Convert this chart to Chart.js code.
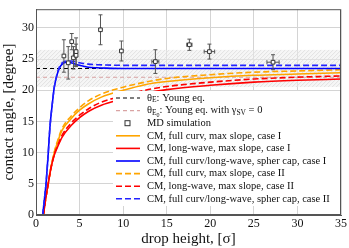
<!DOCTYPE html>
<html>
<head>
<meta charset="utf-8">
<script src="https://cdn.jsdelivr.net/npm/chart.js@4.4.1/dist/chart.umd.min.js"></script>
<style>
  html, body { margin: 0; padding: 0; background: #fff; }
</style>
</head>
<body>
<canvas id="chart" width="349" height="248"></canvas>
<script>
// axis ticks
const xTicks = [0, 5, 10, 15, 20, 25, 30, 35];
const yTicks = [0, 5, 10, 15, 20, 25, 30];

// Young equation reference lines
const youngX = [0, 35];
const thetaE = 23.5;
const thetaE0 = 22.1;
const thetaBand = [20.5, 26.5]; // shaded uncertainty band

// MD simulation points
const mdX    = [3.2, 3.7, 4.1, 4.3, 4.6, 4.6, 7.4, 9.8, 13.7, 17.6, 19.9, 27.2];
const mdY    = [25.5, 24.4, 27.8, 25.2, 26.2, 25.6, 29.7, 26.3, 24.6, 27.3, 26.2, 24.5];
const mdYErr = [2.6, 2.6, 1.3, 1.8, 2.2, 1.8, 2.4, 1.6, 1.9, 0.9, 1.2, 1.2];
const mdXErr = [0, 0, 0, 0, 0, 0, 0, 0, 0.4, 0.3, 0.6, 0.7];

// continuum model curves (max slope)
const cmX = [0.85, 1.1, 1.4, 1.7, 2.1, 2.5, 3.0, 4.0, 5.0, 6.0, 7.5, 10, 12.5, 15, 20, 25, 30, 35];
const fullCurvI  = [0, 2.5, 5.0, 7.5, 10.0, 11.8, 13.6, 15.4, 16.8, 17.8, 18.9, 20.0, 20.9, 21.4, 22.0, 22.4, 22.6, 22.8];
const longWaveI  = [0, 2.5, 5.0, 7.4, 9.6, 11.0, 12.5, 14.3, 15.6, 16.6, 17.6, 18.6, 19.5, 20.1, 20.8, 21.3, 21.6, 21.8];
const fullCurvII = [0, 2.5, 5.0, 7.5, 10.1, 12.0, 13.9, 15.8, 17.2, 18.3, 19.4, 20.5, 21.3, 21.9, 22.5, 22.9, 23.1, 23.3];
const longWaveII = [0, 2.5, 5.0, 7.4, 9.7, 11.2, 12.8, 14.7, 16.0, 17.0, 18.1, 19.1, 20.0, 20.6, 21.3, 21.8, 22.1, 22.3];

// spherical cap curves
const capX   = [0.77, 1.0, 1.15, 1.3, 1.41, 1.6, 1.9, 2.1, 2.4, 2.7, 3.0, 3.5, 4.0, 5.0, 6.0, 7.0, 8.0, 10, 35];
const capI   = [0, 3.0, 5.0, 7.8, 10.0, 14.1, 18.2, 20.5, 22.4, 23.6, 24.2, 24.5, 24.4, 24.0, 23.7, 23.6, 23.55, 23.5, 23.5];
const capII  = [0, 3.0, 5.0, 7.8, 10.0, 14.1, 18.2, 20.5, 22.5, 23.8, 24.4, 24.7, 24.7, 24.4, 24.2, 24.1, 24.05, 24.0, 24.0];

const serif = "'Liberation Serif', 'DejaVu Serif', serif";

function pts(xs, ys) {
  return xs.map((x, i) => ({ x: x, y: ys[i] }));
}

function curve(label, xs, ys, color, dash, order) {
  return {
    label: label,
    data: pts(xs, ys),
    showLine: true,
    borderColor: color,
    borderWidth: 1.6,
    borderDash: dash,
    pointRadius: 0,
    cubicInterpolationMode: 'monotone',
    fill: false,
    order: order
  };
}

const datasets = [
  {
    label: 'MD simulation',
    data: pts(mdX, mdY),
    pointStyle: 'rect',
    pointRadius: 2.6,
    pointBorderWidth: 1,
    pointBorderColor: '#333',
    pointBackgroundColor: '#fff',
    showLine: false,
    order: 0
  },
  curve('CM, full curv, max slope, case I', cmX, fullCurvI, '#ffa500', [], 5),
  curve('CM, long-wave, max slope, case I', cmX, longWaveI, '#ff0000', [], 4),
  curve('CM, full curv/long-wave, spher cap, case I', capX, capI, '#0000ff', [], 2),
  curve('CM, full curv, max slope, case II', cmX, fullCurvII, '#ffa500', [6, 3], 5),
  curve('CM, long-wave, max slope, case II', cmX, longWaveII, '#ff0000', [6, 3], 4),
  curve('CM, full curv/long-wave, spher cap, case II', capX, capII, '#2222ff', [6, 3], 1),
  {
    label: 'young',
    data: pts(youngX, [thetaE, thetaE]),
    showLine: true, borderColor: '#000', borderWidth: 1.1, borderDash: [4, 3],
    pointRadius: 0, order: 8
  },
  {
    label: 'young0',
    data: pts(youngX, [thetaE0, thetaE0]),
    showLine: true, borderColor: '#d9a3a3', borderWidth: 1.1, borderDash: [4, 3],
    pointRadius: 0, order: 9
  }
];

// legend order and text (rich text parts: [text, level])
const legendRows = [
  { ds: 7, parts: [['\u03b8', 0], ['E', 1], [': Young eq.', 0]] },
  { ds: 8, parts: [['\u03b8', 0], ['E', 1], ['0', 2], [': Young eq. with \u03b3', 0], ['SV', 1], [' = 0', 0]] },
  { ds: 0, parts: [['MD simulation', 0]] },
  { ds: 1 }, { ds: 2 }, { ds: 3 }, { ds: 4 }, { ds: 5 }, { ds: 6 }
];

const bandPlugin = {
  id: 'band',
  beforeDatasetsDraw(chart) {
    const { ctx, chartArea: a, scales } = chart;
    const yTop = scales.y.getPixelForValue(thetaBand[1]);
    const yBot = scales.y.getPixelForValue(thetaBand[0]);
    ctx.save();
    ctx.beginPath();
    ctx.rect(a.left, yTop, a.right - a.left, yBot - yTop);
    ctx.clip();
    ctx.fillStyle = 'rgba(238,238,238,0.5)';
    ctx.fillRect(a.left, yTop, a.right - a.left, yBot - yTop);
    ctx.strokeStyle = '#dcdcdc';
    ctx.lineWidth = 0.8;
    for (let x = a.left - 60; x < a.right + 60; x += 4) {
      ctx.beginPath();
      ctx.moveTo(x, yBot);
      ctx.lineTo(x + (yBot - yTop), yTop);
      ctx.stroke();
    }
    ctx.restore();
  }
};

const errorBarPlugin = {
  id: 'errorBars',
  beforeDatasetDraw(chart, args) {
    if (args.index !== 0) return;
    const { ctx, scales } = chart;
    ctx.save();
    ctx.strokeStyle = '#555';
    ctx.lineWidth = 1;
    mdX.forEach((x, i) => {
      const px = scales.x.getPixelForValue(x);
      const py = scales.y.getPixelForValue(mdY[i]);
      const y1 = scales.y.getPixelForValue(mdY[i] + mdYErr[i]);
      const y2 = scales.y.getPixelForValue(mdY[i] - mdYErr[i]);
      ctx.beginPath();
      ctx.moveTo(px, y1); ctx.lineTo(px, y2);
      ctx.moveTo(px - 2, y1); ctx.lineTo(px + 2, y1);
      ctx.moveTo(px - 2, y2); ctx.lineTo(px + 2, y2);
      if (mdXErr[i] > 0) {
        const x1 = scales.x.getPixelForValue(x - mdXErr[i]);
        const x2 = scales.x.getPixelForValue(x + mdXErr[i]);
        ctx.moveTo(x1, py); ctx.lineTo(x2, py);
        ctx.moveTo(x1, py - 2); ctx.lineTo(x1, py + 2);
        ctx.moveTo(x2, py - 2); ctx.lineTo(x2, py + 2);
      }
      ctx.stroke();
    });
    ctx.restore();
  }
};

function drawRich(ctx, x, y, parts) {
  parts.forEach(([t, lvl]) => {
    const size = lvl === 0 ? 10.5 : (lvl === 1 ? 7.5 : 6);
    const dy = lvl === 0 ? 0 : (lvl === 1 ? 2.5 : 4.5);
    ctx.font = size + 'px ' + serif;
    ctx.fillText(t, x, y + dy);
    x += ctx.measureText(t).width;
  });
}

const legendPlugin = {
  id: 'boxLegend',
  afterDraw(chart) {
    const { ctx, chartArea: a } = chart;
    const left = 113, top = 91, right = 340, bottom = 206;
    const rowH = 12.6;
    ctx.save();
    ctx.fillStyle = '#fff';
    ctx.fillRect(left, top, right - left, bottom - top);
    ctx.textBaseline = 'middle';
    legendRows.forEach((row, i) => {
      const ds = chart.data.datasets[row.ds];
      const y = 98 + i * rowH;
      if (row.ds === 0) {
        ctx.strokeStyle = '#333';
        ctx.lineWidth = 1;
        ctx.fillStyle = '#fff';
        ctx.fillRect(125, y - 2.5, 5, 5);
        ctx.strokeRect(125, y - 2.5, 5, 5);
      } else {
        ctx.strokeStyle = ds.borderColor;
        ctx.lineWidth = ds.borderWidth;
        ctx.setLineDash(ds.borderDash || []);
        ctx.beginPath();
        ctx.moveTo(116, y);
        ctx.lineTo(140, y);
        ctx.stroke();
        ctx.setLineDash([]);
      }
      ctx.fillStyle = '#111';
      drawRich(ctx, 147, y, row.parts || [[ds.label, 0]]);
    });
    // plot frame
    ctx.strokeStyle = '#555';
    ctx.lineWidth = 1;
    ctx.strokeRect(a.left + 0.5, a.top + 0.5, a.right - a.left - 1, a.bottom - a.top - 1);
    ctx.restore();
  }
};

new Chart(document.getElementById('chart').getContext('2d'), {
  type: 'scatter',
  data: { datasets: datasets },
  plugins: [bandPlugin, errorBarPlugin, legendPlugin],
  options: {
    responsive: false,
    devicePixelRatio: 1,
    animation: false,
    layout: { padding: { top: 2, right: 7, left: 0, bottom: 0 } },
    plugins: { legend: { display: false }, tooltip: { enabled: false } },
    scales: {
      x: {
        type: 'linear', min: 0, max: 35,
        afterBuildTicks: (s) => { s.ticks = xTicks.map(v => ({ value: v })); },
        afterFit: (s) => { s.height = 33; },
        grid: { color: '#d4d4d4', drawTicks: false },
        border: { color: '#555', width: 1 },
        ticks: { color: '#111', padding: 2, font: { family: serif, size: 12 } },
        title: { display: true, text: 'drop height, [\u03c3]', color: '#111', padding: 0, font: { family: serif, size: 15 } }
      },
      y: {
        type: 'linear', min: 0, max: 33,
        afterBuildTicks: (s) => { s.ticks = yTicks.map(v => ({ value: v })); },
        afterFit: (s) => { s.width = 36; },
        grid: { color: '#d4d4d4', drawTicks: false },
        border: { color: '#555', width: 1 },
        ticks: { color: '#111', padding: 2, font: { family: serif, size: 12 } },
        title: { display: true, text: 'contact angle, [degree]', color: '#111', padding: 0, font: { family: serif, size: 15 } }
      }
    }
  }
});
</script>
</body>
</html>
